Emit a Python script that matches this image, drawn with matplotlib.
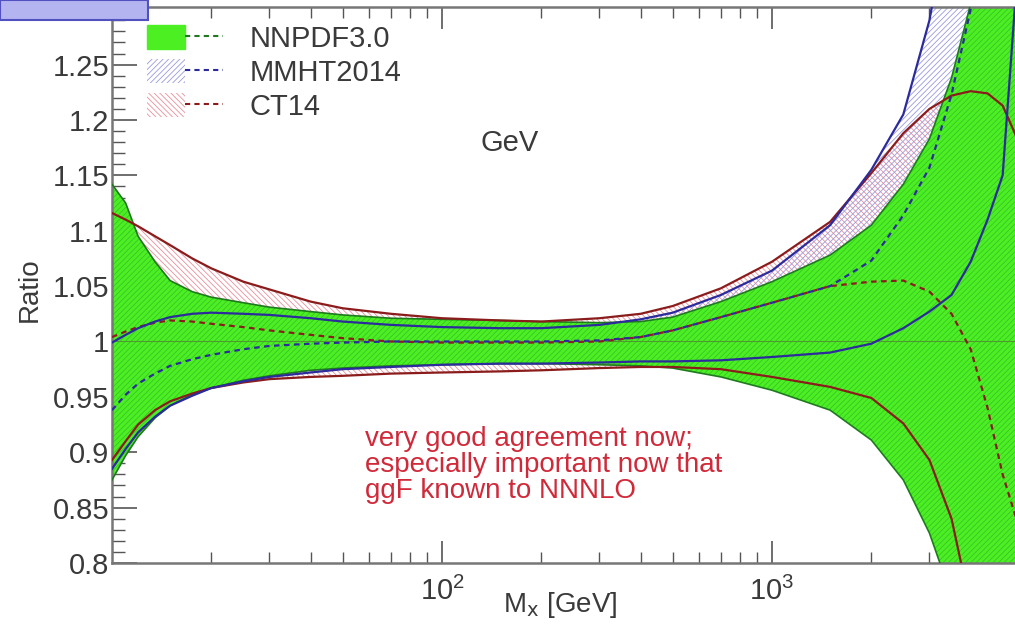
import matplotlib
matplotlib.use("Agg")
import matplotlib.pyplot as plt
from matplotlib.patches import Patch, Rectangle
from matplotlib.lines import Line2D
from matplotlib.legend_handler import HandlerTuple
from matplotlib.ticker import FixedLocator, LogLocator, MultipleLocator, FuncFormatter, NullFormatter

plt.rcParams['font.family'] = ['Liberation Sans', 'DejaVu Sans']
plt.rcParams['hatch.linewidth'] = 0.6

# mass points [GeV]
mass = [10, 11, 12, 13.5, 15, 17.5, 20, 25, 30, 40, 50, 70, 100, 150, 200, 300,
        400, 500, 700, 1000, 1500, 2000, 2500, 3000, 3500, 4000, 4500, 5000, 5500]

# NNPDF3.0 band (central = 1)
nnpdf_up = [1.142, 1.125, 1.095, 1.072, 1.055, 1.045, 1.040, 1.035, 1.031, 1.027, 1.024,
            1.021, 1.020, 1.019, 1.018, 1.017, 1.018, 1.022, 1.036, 1.054, 1.078, 1.105,
            1.142, 1.183, 1.238, 1.305, 1.38, 1.45, 1.50]
nnpdf_lo = [0.875, 0.897, 0.914, 0.931, 0.942, 0.952, 0.958, 0.965, 0.969, 0.974, 0.976,
            0.978, 0.979, 0.980, 0.980, 0.979, 0.978, 0.976, 0.968, 0.956, 0.938, 0.911,
            0.875, 0.827, 0.770, 0.700, 0.650, 0.600, 0.550]

# MMHT2014
mmht_up = [0.999, 1.006, 1.012, 1.018, 1.022, 1.025, 1.026, 1.025, 1.024, 1.021, 1.018,
           1.015, 1.013, 1.012, 1.012, 1.015, 1.020, 1.026, 1.042, 1.064, 1.105, 1.155,
           1.205, 1.290, 1.40, 1.50, 1.60, 1.70, 1.80]
mmht_c = [0.938, 0.952, 0.962, 0.971, 0.978, 0.984, 0.988, 0.993, 0.996, 0.998, 0.999,
          1.000, 1.000, 1.000, 1.000, 1.001, 1.004, 1.010, 1.022, 1.035, 1.050, 1.073,
          1.114, 1.157, 1.223, 1.300, 1.380, 1.450, 1.500]
mmht_lo = [0.885, 0.903, 0.918, 0.932, 0.942, 0.951, 0.958, 0.964, 0.968, 0.972, 0.975,
           0.977, 0.979, 0.980, 0.980, 0.981, 0.982, 0.982, 0.983, 0.986, 0.990, 0.998,
           1.012, 1.027, 1.042, 1.072, 1.110, 1.150, 1.320]

# CT14
ct14_up = [1.116, 1.110, 1.104, 1.095, 1.087, 1.075, 1.066, 1.054, 1.047, 1.036, 1.030,
           1.025, 1.021, 1.019, 1.018, 1.021, 1.025, 1.032, 1.048, 1.072, 1.108, 1.152,
           1.188, 1.210, 1.222, 1.226, 1.224, 1.213, 1.185]
ct14_c = [1.004, 1.009, 1.013, 1.017, 1.019, 1.018, 1.016, 1.013, 1.010, 1.006, 1.003,
          1.000, 0.999, 0.999, 0.999, 1.000, 1.004, 1.010, 1.022, 1.035, 1.050, 1.054,
          1.055, 1.045, 1.025, 0.993, 0.940, 0.880, 0.840]
ct14_lo = [0.893, 0.910, 0.925, 0.938, 0.946, 0.953, 0.958, 0.963, 0.966, 0.968, 0.969,
           0.971, 0.972, 0.973, 0.974, 0.976, 0.977, 0.977, 0.975, 0.968, 0.959, 0.949,
           0.926, 0.893, 0.840, 0.760, 0.700, 0.650, 0.600]

yticks = [0.8, 0.85, 0.9, 0.95, 1.0, 1.05, 1.1, 1.15, 1.2, 1.25]
xticks = [100, 1000]

green = '#4cf022'
dkgreen = '#1f7a1f'
blue = '#2b2b9c'
red = '#8b1c1c'
pink = '#e8909c'
lav = '#9a9ae0'
txt = '#3a3a3a'

fig = plt.figure(figsize=(10.15, 6.24), dpi=100)
ax = fig.add_axes([112 / 1015, 61 / 624, 903 / 1015, 556 / 624])

# bands
ax.fill_between(mass, ct14_lo, ct14_up, facecolor='none', edgecolor=pink,
                hatch='\\\\\\\\\\\\', linewidth=0, zorder=1)
ax.fill_between(mass, mmht_lo, mmht_up, facecolor='none', edgecolor=lav,
                hatch='//////', linewidth=0, zorder=1.1)
ax.fill_between(mass, nnpdf_lo, nnpdf_up, facecolor=green, edgecolor='#38c42a',
                hatch='//////', linewidth=0, zorder=2)

# lines
ax.plot(mass, nnpdf_up, color=dkgreen, lw=1.2, zorder=3)
ax.plot(mass, nnpdf_lo, color=dkgreen, lw=1.2, zorder=3)
ax.axhline(1.0, color='#4f9a2f', lw=0.8, zorder=3)
for arr in (ct14_up, ct14_lo):
    ax.plot(mass, arr, color=red, lw=1.6, zorder=4)
ax.plot(mass, ct14_c, color=red, lw=1.6, dashes=(2.5, 2), zorder=4)
for arr in (mmht_up, mmht_lo):
    ax.plot(mass, arr, color=blue, lw=1.6, zorder=4)
ax.plot(mass, mmht_c, color=blue, lw=1.6, dashes=(2.5, 2), zorder=4)

ax.set_xscale('log')
ax.set_xlim(10, 5450)
ax.set_ylim(0.8, 1.302)

ax.xaxis.set_major_locator(FixedLocator(xticks))
ax.xaxis.set_minor_locator(LogLocator(base=10, subs=range(2, 10), numticks=20))
ax.xaxis.set_minor_formatter(NullFormatter())
ax.set_yticks(yticks)
ax.yaxis.set_minor_locator(MultipleLocator(0.01))
ax.yaxis.set_major_formatter(FuncFormatter(lambda v, p: '%g' % v))

ax.tick_params(axis='both', which='both', direction='in', colors='#555555',
               labelcolor=txt, labelsize=21)
ax.tick_params(axis='y', which='major', length=18, width=1.2, pad=2)
ax.tick_params(axis='y', which='minor', length=9, width=1.0)
ax.tick_params(axis='x', which='major', length=16, width=1.2, top=True, pad=10)
ax.tick_params(axis='x', which='minor', length=8, width=1.0, top=True)

for s in ('left', 'bottom', 'top'):
    ax.spines[s].set_color('#777777')
    ax.spines[s].set_linewidth(1.8)
ax.spines['right'].set_visible(False)

fig.text(30 / 1015, 1 - 290 / 624, 'Ratio', rotation=90, fontsize=20, color=txt,
         ha='center', va='center')
fig.text(560 / 1015, 1 - 605 / 624, r'M$_{\rm x}$ [GeV]', fontsize=20, color=txt,
         ha='center', va='center')

fig.text(365 / 1015, 1 - 426 / 624,
         'very good agreement now;\nespecially important now that\nggF known to NNNLO',
         fontsize=20, color='#d02a3a', ha='left', va='top', linespacing=1.0)
fig.text(510 / 1015, 1 - 143 / 624, 'GeV', fontsize=21, color=txt, ha='center', va='center')

handles = [
    (Patch(facecolor=green, edgecolor=green), Line2D([], [], color=dkgreen, lw=1.5, dashes=(2.5, 2))),
    (Patch(facecolor='none', edgecolor=lav, hatch='//////', linewidth=0),
     Line2D([], [], color=blue, lw=1.5, dashes=(2.5, 2))),
    (Patch(facecolor='none', edgecolor=pink, hatch='\\\\\\\\\\\\', linewidth=0),
     Line2D([], [], color=red, lw=1.5, dashes=(2.5, 2))),
]
ax.legend(handles, ['NNPDF3.0', 'MMHT2014', 'CT14'],
          handler_map={tuple: HandlerTuple(ndivide=None, pad=0)},
          loc='upper left', bbox_to_anchor=(0.039, 0.968), frameon=False,
          fontsize=21, handlelength=2.6, handleheight=0.9, handletextpad=0.9,
          labelspacing=0.2, borderpad=0, borderaxespad=0, labelcolor=txt)

# slide overlay box in the corner
fig.patches.append(Rectangle((0, 1 - 20 / 624), 148 / 1015, 20 / 624, transform=fig.transFigure,
                             facecolor='#b4b4f0', edgecolor='#5050c0', lw=1.5, zorder=10))

fig.savefig('out.png', dpi=100)
